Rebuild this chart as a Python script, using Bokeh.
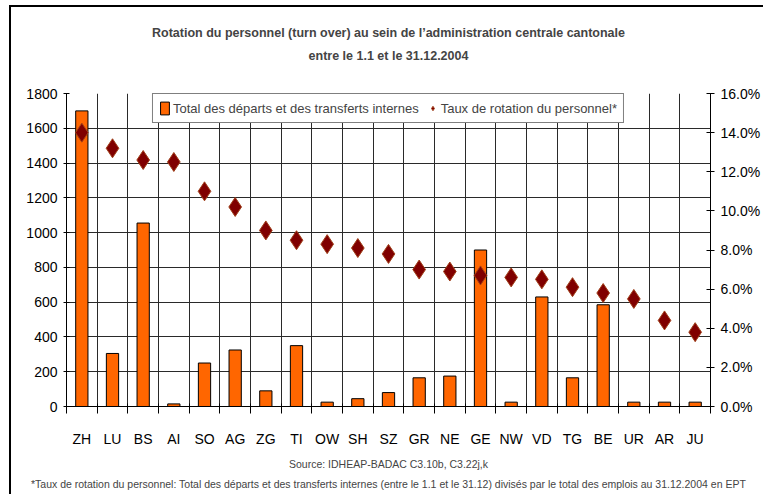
from bokeh.plotting import figure
from bokeh.models import (ColumnDataSource, Range1d, LinearAxis, FixedTicker,
                          PrintfTickFormatter, Legend, LegendItem, Title)
from bokeh.embed import file_html
from bokeh.resources import INLINE

cantons = ["ZH", "LU", "BS", "AI", "SO", "AG", "ZG", "TI", "OW", "SH", "SZ",
           "GR", "NE", "GE", "NW", "VD", "TG", "BE", "UR", "AR", "JU"]
departures = [1700, 305, 1055, 15, 250, 325, 90, 350, 25, 45, 80,
              165, 175, 900, 25, 630, 165, 585, 25, 25, 25]
rate_pct = [14.0, 13.2, 12.6, 12.5, 11.0, 10.2, 9.0, 8.5, 8.3, 8.1, 7.8,
            7.0, 6.9, 6.7, 6.6, 6.5, 6.1, 5.8, 5.5, 4.4, 3.8]
left_ticks = [0, 200, 400, 600, 800, 1000, 1200, 1400, 1600, 1800]
right_ticks = [0, 2, 4, 6, 8, 10, 12, 14, 16]

title1 = "Rotation du personnel (turn over) au sein de l\u2019administration centrale cantonale"
title2 = "entre le 1.1 et le 31.12.2004"
source_txt = "Source: IDHEAP-BADAC C3.10b, C3.22j,k"
note_txt = ("*Taux de rotation du personnel: Total des d\u00e9parts et des transferts internes "
            "(entre le 1.1 et le 31.12) divis\u00e9s par le total des emplois au 31.12.2004 en EPT")
legend_bar = "Total des d\u00e9parts et des transferts internes"
legend_rate = "Taux de rotation du personnel*"

FONT = "Liberation Sans"

n = len(cantons)
xs = list(range(n))
src = ColumnDataSource(dict(x=xs, dep=departures, rate=rate_pct, cat=cantons))

p = figure(width=754, height=489, output_backend="svg", toolbar_location=None,
           x_range=Range1d(-0.5, n - 0.5), y_range=Range1d(0, 1800),
           min_border_left=55, min_border_right=55, min_border_top=86,
           min_border_bottom=90, title=title1)
p.styles = {"margin-left": "9px", "margin-top": "5px",
            "border-left": "2px solid black", "border-top": "2px solid black"}
p.extra_y_ranges = {"rate": Range1d(0, 16)}
p.outline_line_color = None
p.background_fill_color = "white"
p.border_fill_color = "white"

# titles: spacer next to the frame, then line 2, then p.title (line 1) outermost
p.title.text_font = FONT
p.title.text_font_size = "12.5px"
p.title.text_font_style = "bold"
p.title.align = "center"
p.title.standoff = 8
spacer = Title(text=" ", text_font=FONT, text_font_size="1px", standoff=25)
t2 = Title(text=title2, text_font=FONT, text_font_size="12.5px", text_font_style="bold",
           align="center", standoff=6)
p.add_layout(spacer, "above")
p.add_layout(t2, "above")

# grids
p.ygrid.ticker = FixedTicker(ticks=left_ticks)
p.xgrid.ticker = FixedTicker(ticks=[i - 0.5 for i in range(n + 1)])
for g in (p.xgrid, p.ygrid):
    g.grid_line_color = "#2a2a2a"
    g.grid_line_width = 1

bars = p.vbar(x="x", top="dep", width=0.4, bottom=0, source=src,
              fill_color="#FF6600", line_color="black", line_width=1)
pts = p.scatter(x="x", y="rate", source=src, y_range_name="rate", marker="diamond",
                size=19, fill_color="#800000", line_color="#A0401A", line_width=1)

# x axis
xa = p.xaxis[0]
xa.ticker = FixedTicker(ticks=xs, minor_ticks=[i - 0.5 for i in range(n + 1)])
xa.major_label_overrides = {i: c for i, c in zip(xs, cantons)}
xa.major_tick_in = 0
xa.major_tick_out = 0
xa.minor_tick_in = 3
xa.minor_tick_out = 7
xa.minor_tick_line_color = "black"
xa.major_label_standoff = 17

# left axis
ya = p.yaxis[0]
ya.ticker = FixedTicker(ticks=left_ticks)
ya.major_tick_in = 3
ya.major_tick_out = 3
ya.minor_tick_line_color = None
ya.major_label_standoff = 6

# right axis
ra = LinearAxis(y_range_name="rate", ticker=FixedTicker(ticks=right_ticks),
                formatter=PrintfTickFormatter(format="%.1f%%"))
ra.major_tick_in = 4
ra.major_tick_out = 4
ra.minor_tick_line_color = None
ra.major_label_standoff = 6
p.add_layout(ra, "right")

for ax in (xa, ya, ra):
    ax.axis_line_color = "black"
    ax.major_tick_line_color = "black"
    ax.major_label_text_font = FONT
    ax.major_label_text_font_size = "14px"
    ax.major_label_text_color = "black"

legend = Legend(items=[LegendItem(label=legend_bar, renderers=[bars]),
                       LegendItem(label=legend_rate, renderers=[pts])],
                orientation="horizontal", location="top_center", margin=0,
                padding=6, spacing=8, label_standoff=3, glyph_width=11, glyph_height=16,
                label_text_font=FONT, label_text_font_size="13px",
                border_line_color="black", border_line_width=1,
                background_fill_color="white", background_fill_alpha=1)
p.add_layout(legend, "center")

# source and footnote below the x axis
src_title = Title(text=source_txt, text_font=FONT, text_font_size="10.5px",
                  text_font_style="normal", align="center", standoff=12)
note_title = Title(text=note_txt, text_font=FONT, text_font_size="10.5px",
                   text_font_style="normal", align="center", standoff=0)
p.add_layout(src_title, "below")
p.add_layout(note_title, "below")

open("out.html", "w").write(file_html(p, INLINE))
